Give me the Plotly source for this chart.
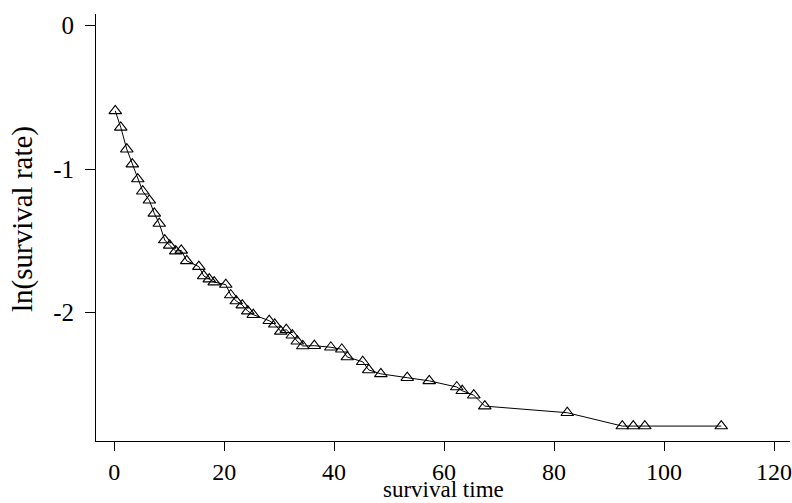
import plotly.graph_objects as go

survival_time = [0.2, 1.2, 2.3, 3.3, 4.3, 5.2, 6.4, 7.3, 8.2, 9.2, 10.1, 11.2, 12.2, 13.2,
                 15.4, 16.3, 17.3, 18.2, 20.3, 21.2, 22.2, 23.3, 24.3, 25.3, 28.2, 29.2,
                 30.3, 31.3, 32.4, 33.3, 34.3, 36.4, 39.4, 41.4, 42.4, 45.2, 46.3, 48.5,
                 53.3, 57.3, 62.3, 63.3, 65.4, 67.4, 82.4, 92.4, 94.4, 96.5, 110.4]
ln_survival = [-0.595, -0.71, -0.862, -0.966, -1.07, -1.155, -1.218, -1.309, -1.38, -1.495,
               -1.532, -1.572, -1.567, -1.64, -1.68, -1.745, -1.767, -1.788, -1.805, -1.878,
               -1.92, -1.948, -1.99, -2.015, -2.057, -2.082, -2.131, -2.12, -2.158, -2.2,
               -2.233, -2.231, -2.242, -2.256, -2.31, -2.343, -2.40, -2.427, -2.454, -2.476,
               -2.519, -2.545, -2.576, -2.652, -2.698, -2.791, -2.791, -2.791, -2.791]

x_ticks = [0, 20, 40, 60, 80, 100, 120]
y_ticks = [0, -1, -2]
y_tick_labels = ["0", "-1", "-2"]
x_title = "survival time"
y_title = "ln(survival rate)"

FONT = "Liberation Serif, Times New Roman, serif"
L, R, T, B = 96, 2, 14, 62
W, H = 792, 503
PW, PH = W - L - R, H - T - B

fig = go.Figure()
fig.add_trace(go.Scatter(
    x=survival_time, y=ln_survival, mode="lines+markers",
    line=dict(color="black", width=1),
    marker=dict(symbol="triangle-up-open", size=11, color="black", line=dict(width=1.1, color="black")),
    showlegend=False,
))

fig.update_layout(
    width=W, height=H,
    margin=dict(l=L, r=R, t=T, b=B, autoexpand=False),
    paper_bgcolor="white", plot_bgcolor="white",
    font=dict(family=FONT, color="black", size=24),
)
fig.update_xaxes(
    range=[-3.3, 122.9], tickvals=x_ticks, ticktext=[str(v) for v in x_ticks],
    showgrid=False, zeroline=False, showline=True, linecolor="black", linewidth=1,
    ticks="outside", ticklen=9, tickcolor="black", tickwidth=1,
    tickfont=dict(family=FONT, size=24), automargin=False,
    ticklabeloverflow="allow",
)
fig.update_yaxes(
    range=[-2.895, 0.08], tickvals=y_ticks, ticktext=y_tick_labels,
    showgrid=False, zeroline=False, showline=True, linecolor="black", linewidth=1,
    ticks="outside", ticklen=10, tickcolor="black", tickwidth=1,
    tickfont=dict(family=FONT, size=25), ticklabelstandoff=6, automargin=False,
    ticklabeloverflow="allow",
)

fig.add_annotation(
    text=x_title, xref="paper", yref="paper",
    x=(443 - L) / PW, y=(H - B - 503) / PH, xanchor="center", yanchor="bottom",
    showarrow=False, borderpad=0, font=dict(family=FONT, size=23, color="black"),
)
fig.add_annotation(
    text=y_title, xref="paper", yref="paper", textangle=-90,
    x=(22 - L) / PW, y=(H - B - 219) / PH, xanchor="center", yanchor="middle",
    showarrow=False, font=dict(family=FONT, size=29, color="black"),
)

fig.write_html(
    "out.html",
    config={"displayModeBar": False},
    post_script="document.body.style.margin='0';document.body.style.overflow='hidden';",
)
